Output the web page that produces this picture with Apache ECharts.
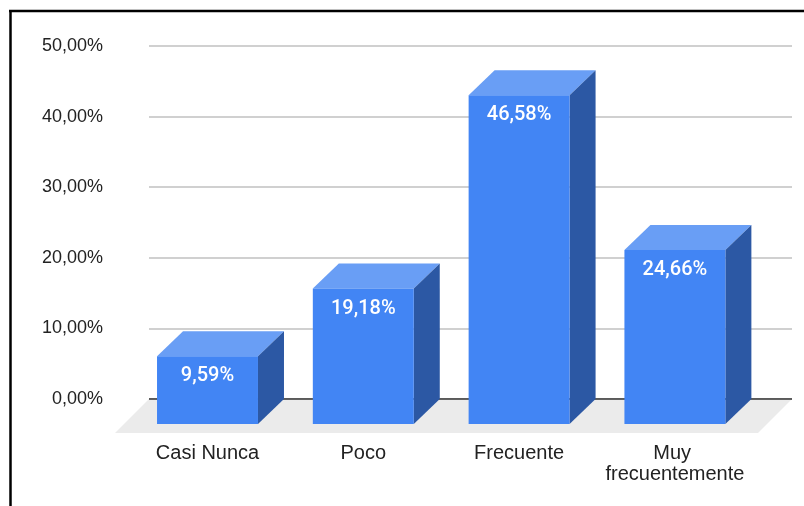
<!DOCTYPE html>
<html>
<head>
<meta charset="utf-8">
<script src="https://cdn.jsdelivr.net/npm/echarts@6/dist/echarts.min.js"></script>
<style>
  html, body { margin: 0; padding: 0; background: #fff; }
  #chart { width: 804px; height: 506px; }
</style>
</head>
<body>
<div id="chart"></div>
<script>
var categories = ['Casi Nunca', 'Poco', 'Frecuente', 'Muy frecuentemente'];
var percentages = [9.59, 19.18, 46.58, 24.66];
var percentTicks = [0, 10, 20, 30, 40, 50];

var chart = echarts.init(document.getElementById('chart'));

// 3d look: bar depth and floor depth in px
var depthX = 26, depthY = 25, floorDepth = 34;
var barWidth = 0.648; // in category units

function fmt(v) {
    return v.toFixed(2).replace('.', ',') + '%';
}

function renderFloor(params, api) {
    var cs = params.coordSys;
    var y0 = api.coord([0, 0])[1];
    var left = cs.x, right = cs.x + cs.width;
    return {
        type: 'group',
        children: [
            {type: 'polygon', shape: {points: [[left, y0], [right, y0], [right - floorDepth, y0 + floorDepth], [left - floorDepth, y0 + floorDepth]]},
                style: {fill: '#ebebeb'}},
            {type: 'line', shape: {x1: left, y1: y0, x2: right, y2: y0}, style: {stroke: '#333', lineWidth: 1.5}}
        ]
    };
}

function renderBar(params, api) {
    var i = api.value(0), v = api.value(1);
    var top = api.coord([i, v]);
    var base = api.coord([i, 0]);
    var w = api.size([barWidth, 0])[0];
    var xl = top[0] - w / 2, xr = top[0] + w / 2;
    var yt = top[1] + depthY, yb = base[1] + depthY;
    return {
        type: 'group',
        children: [
            {type: 'polygon', shape: {points: [[xl, yt], [xr, yt], [xr + depthX, yt - depthY], [xl + depthX, yt - depthY]]},
                style: {fill: '#699ef5'}},
            {type: 'polygon', shape: {points: [[xr, yt], [xr + depthX, yt - depthY], [xr + depthX, yb - depthY], [xr, yb]]},
                style: {fill: '#2c58a4'}},
            {type: 'rect', shape: {x: xl, y: yt, width: w, height: yb - yt}, style: {fill: '#4285f4'}},
            {type: 'text', x: top[0], y: yt + 20,
                style: {text: fmt(v), fill: '#fff', fontSize: 20, fontWeight: 500, fontFamily: 'Roboto',
                    align: 'center', verticalAlign: 'middle'}}
        ]
    };
}

var option = {
    animation: false,
    grid: {left: 149, right: 12, top: 46, bottom: 107},
    graphic: [
        {type: 'line', shape: {x1: 10.5, y1: 10, x2: 10.5, y2: 506}, style: {stroke: '#000', lineWidth: 2.5}},
        {type: 'line', shape: {x1: 9, y1: 11, x2: 804, y2: 11}, style: {stroke: '#000', lineWidth: 2.5}}
    ],
    xAxis: {
        type: 'value', min: -0.3755, max: 3.7516,
        splitLine: {show: false}, axisLine: {show: false}, axisTick: {show: false},
        axisLabel: {
            customValues: categories.map(function (c, i) { return i; }),
            formatter: function (v) { return categories[v]; },
            showMinLabel: true, showMaxLabel: true, hideOverlap: false,
            margin: 44, fontSize: 20, lineHeight: 21, width: 148, overflow: 'break',
            color: '#222', fontFamily: 'Liberation Sans'
        }
    },
    yAxis: {
        type: 'value', min: percentTicks[0], max: percentTicks[percentTicks.length - 1],
        interval: percentTicks[1] - percentTicks[0],
        axisLine: {show: false}, axisTick: {show: false},
        axisLabel: {formatter: fmt, margin: 46, fontSize: 18, color: '#222', fontFamily: 'Liberation Sans'},
        splitLine: {lineStyle: {color: '#d0d0d0', width: 2}}
    },
    series: [
        {type: 'custom', z: 1, renderItem: renderFloor, data: [[0, 0]], silent: true},
        {type: 'custom', z: 2, renderItem: renderBar, data: percentages.map(function (v, i) { return [i, v]; })}
    ]
};
chart.setOption(option);
</script>
</body>
</html>
